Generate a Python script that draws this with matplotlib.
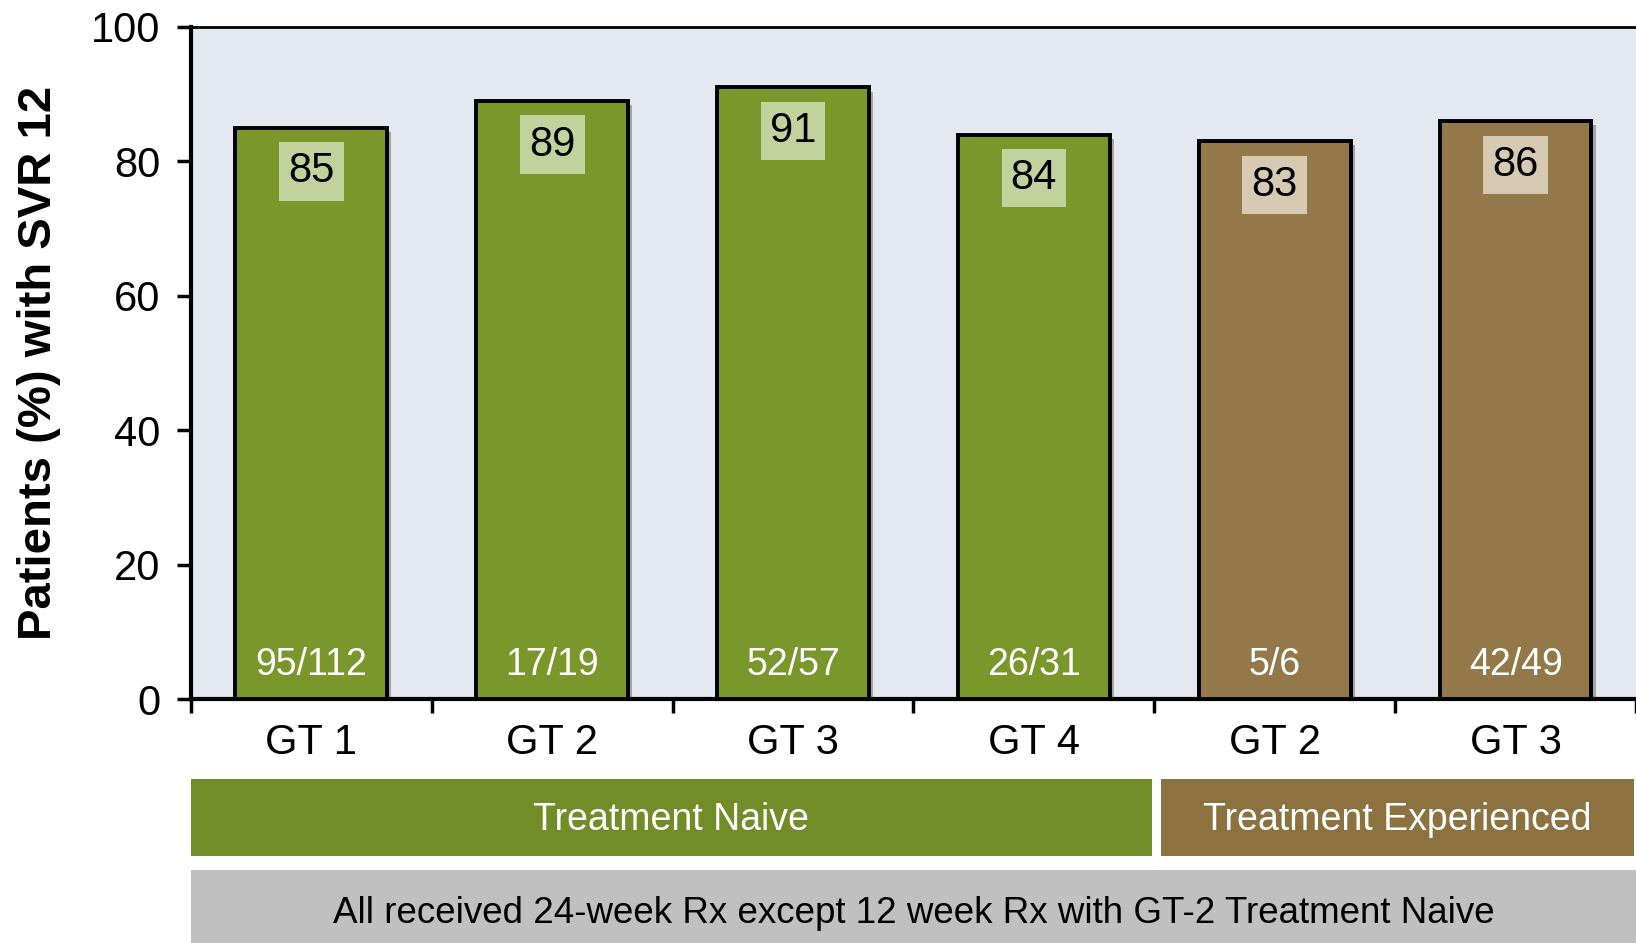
import numpy as np
import matplotlib.pyplot as plt
import matplotlib.patheffects as pe
from matplotlib.patches import Rectangle
from matplotlib.transforms import blended_transform_factory

plt.rcParams['font.family'] = ['Liberation Sans', 'DejaVu Sans']

# datos
genotypes = ["GT 1", "GT 2", "GT 3", "GT 4", "GT 2", "GT 3"]
svr = [85, 89, 91, 84, 83, 86]
fractions = ["95/112", "17/19", "52/57", "26/31", "5/6", "42/49"]
groups = ["Treatment Naive", "Treatment Experienced"]
group_sizes = [4, 2]
note = "All received 24-week Rx except 12 week Rx with GT-2 Treatment Naive"

bar_colors = {"Treatment Naive": "#7a972c", "Treatment Experienced": "#93794a"}
label_bg = {"Treatment Naive": "#c2d29c", "Treatment Experienced": "#d6cab2"}
box_colors = {"Treatment Naive": "#728c27", "Treatment Experienced": "#8b723e"}

group_of = []
for g, n in zip(groups, group_sizes):
    group_of += [g] * n

fig = plt.figure(figsize=(16.36, 9.43), dpi=100)
ax = fig.add_axes([0.1167, 0.2587, 0.8833, 0.7127])
ax.set_facecolor("#e4e8f0")

x = np.arange(len(svr)) + 0.5
bars = ax.bar(x, svr, width=0.63, color=[bar_colors[g] for g in group_of],
              edgecolor="black", linewidth=2.8, zorder=3)
for b in bars:
    b.set_path_effects([pe.SimplePatchShadow(offset=(3, -3), alpha=0.35), pe.Normal()])

for xi, v, fr, g in zip(x, svr, fractions, group_of):
    ax.text(xi, v - 6.5, str(v), ha="center", va="center", fontsize=30, color="black",
            zorder=5, bbox=dict(boxstyle="square,pad=0.22", fc=label_bg[g], ec="none"))
    ax.text(xi, 5.0, fr, ha="center", va="center", fontsize=27, color="white", zorder=5)

ax.set_xlim(0, len(svr))
ax.set_ylim(0, 100)
ax.set_yticks([0, 20, 40, 60, 80, 100])
ax.tick_params(axis="y", labelsize=30, length=10, width=2.5, direction="out", pad=12)
ax.set_xticks(x)
ax.set_xticklabels(genotypes)
ax.set_xticks(np.arange(len(svr) + 1), minor=True)
ax.tick_params(axis="x", which="major", length=0, labelsize=30, pad=17)
ax.tick_params(axis="x", which="minor", length=10, width=2.5, direction="out")

for s in ["left", "bottom"]:
    ax.spines[s].set_linewidth(3)
ax.spines["top"].set_linewidth(2)
ax.spines["right"].set_visible(False)

ax.set_ylabel("Patients (%) with SVR 12", fontsize=34, fontweight="bold")
ax.yaxis.set_label_coords(-0.09, 0.5)

# cajas de grupo debajo del eje
tr = blended_transform_factory(ax.transData, fig.transFigure)
edges = [(0.0, 3.99), (4.026, 5.99)]
for g, (x0, x1) in zip(groups, edges):
    fig.add_artist(Rectangle((x0, 0.0923), x1 - x0, 0.0817, transform=tr,
                             fc=box_colors[g], ec="none"))
    fig.text((x0 + x1) / 2, 0.13, g, transform=tr, ha="center", va="center",
             fontsize=27, color="white")

fig.add_artist(Rectangle((0, 0), len(svr), 0.0774, transform=tr, fc="#c0c0c0", ec="none"))
fig.text(len(svr) / 2, 0.031, note, transform=tr, ha="center", va="center",
         fontsize=26.5, color="black")

fig.savefig("out.png", dpi=100)
